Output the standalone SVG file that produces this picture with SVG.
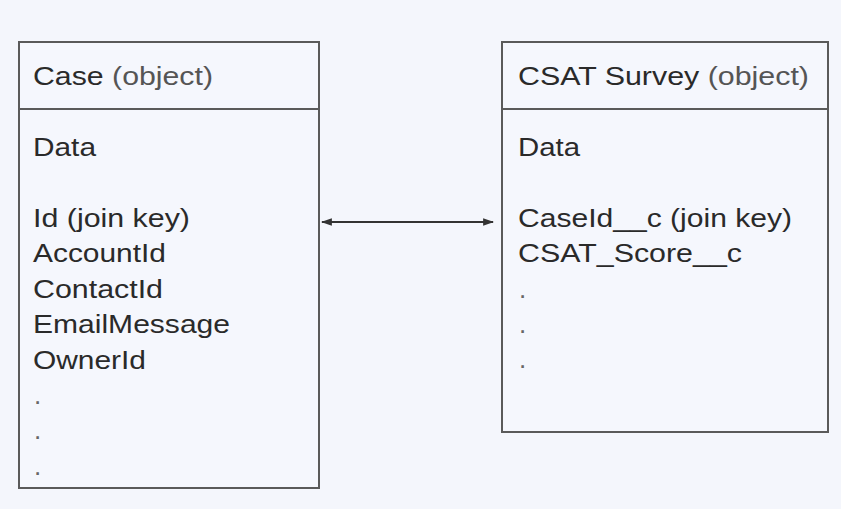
<svg xmlns="http://www.w3.org/2000/svg" width="841" height="509" viewBox="0 0 841 509">
<defs>
<style>
.box{fill:#f5f7fd;stroke:#5a5a5a;stroke-width:2}
.div{stroke:#5a5a5a;stroke-width:2}
text{font-family:"Liberation Sans",Arial,sans-serif;font-size:26px;fill:#2a2a2a}
.lt{fill:#555}
.dot{fill:#666}
.conn{stroke:#333;stroke-width:1.8;fill:none}
</style>
<marker id="ah" viewBox="0 0 10 10" refX="9" refY="5" markerWidth="11" markerHeight="11" markerUnits="userSpaceOnUse" orient="auto-start-reverse">
<path d="M0,1.5 L10,5 L0,8.5 z" fill="#333"/>
</marker>
</defs>
<rect width="841" height="509" fill="#f4f6fc"/>
<g id="case">
<rect class="box" x="19" y="42" width="300" height="446"/>
<line class="div" x1="19" y1="109" x2="319" y2="109"/>
<text x="33" y="85" textLength="180" lengthAdjust="spacingAndGlyphs">Case <tspan class="lt">(object)</tspan></text>
<text x="33" y="156" textLength="63" lengthAdjust="spacingAndGlyphs">Data</text>
<text x="33" y="227" textLength="157" lengthAdjust="spacingAndGlyphs">Id (join key)</text>
<text x="33" y="262" textLength="133" lengthAdjust="spacingAndGlyphs">AccountId</text>
<text x="33" y="298" textLength="130" lengthAdjust="spacingAndGlyphs">ContactId</text>
<text x="33" y="333" textLength="197" lengthAdjust="spacingAndGlyphs">EmailMessage</text>
<text x="33" y="369" textLength="113" lengthAdjust="spacingAndGlyphs">OwnerId</text>
<text class="dot" x="34" y="404">.</text>
<text class="dot" x="34" y="439">.</text>
<text class="dot" x="34" y="475">.</text>
</g>
<g id="csat">
<rect class="box" x="502" y="42" width="326" height="390"/>
<line class="div" x1="502" y1="109" x2="828" y2="109"/>
<text x="518" y="85" textLength="291" lengthAdjust="spacingAndGlyphs">CSAT Survey <tspan class="lt">(object)</tspan></text>
<text x="518" y="156" textLength="62" lengthAdjust="spacingAndGlyphs">Data</text>
<text x="518" y="227" textLength="274" lengthAdjust="spacingAndGlyphs">CaseId__c (join key)</text>
<text x="518" y="262" textLength="224" lengthAdjust="spacingAndGlyphs">CSAT_Score__c</text>
<text class="dot" x="519" y="298">.</text>
<text class="dot" x="519" y="333">.</text>
<text class="dot" x="519" y="368">.</text>
</g>
<g id="connectors">
<line class="conn" x1="322" y1="222" x2="493" y2="222" marker-start="url(#ah)" marker-end="url(#ah)"/>
</g>
</svg>
